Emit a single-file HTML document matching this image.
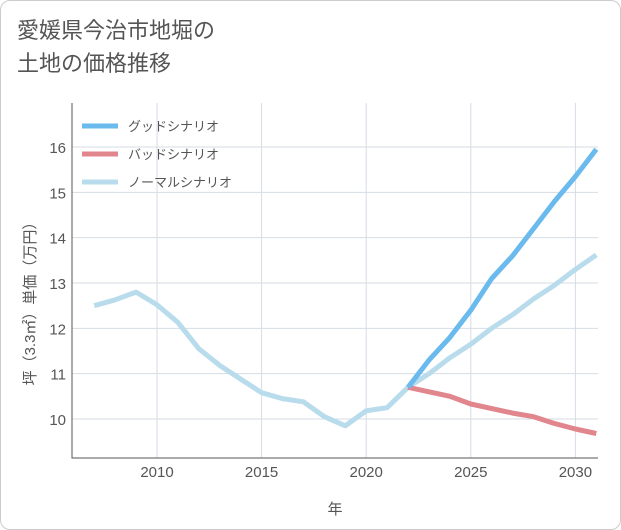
<!DOCTYPE html>
<html><head><meta charset="utf-8"><style>
body{margin:0;background:#fff;}
#wrap{width:621px;height:530px;position:relative;font-family:"Liberation Sans","Noto Sans CJK JP",sans-serif;}
#card{position:absolute;left:0;top:0;width:619px;height:528px;border:1px solid #ccc;border-radius:10px;background:#fff;}
#title{position:absolute;left:17px;top:14px;font-size:22px;line-height:33px;color:#555;}
</style></head><body>
<div id="wrap">
<div id="card"></div>
<div id="title">愛媛県今治市地堀の<br>土地の価格推移</div>
<svg id="chart" width="621" height="530" style="position:absolute;left:0;top:0"></svg>
</div>
<script>
const years=[2007,2008,2009,2010,2011,2012,2013,2014,2015,2016,2017,2018,2019,2020,2021,2022,2023,2024,2025,2026,2027,2028,2029,2030,2031];
const normalVals=[12.5,12.63,12.8,12.52,12.13,11.55,11.18,10.88,10.58,10.45,10.38,10.05,9.85,10.18,10.25,10.7,11.0,11.35,11.65,12.0,12.3,12.65,12.95,13.3,13.62];
const futureYears=[2022,2023,2024,2025,2026,2027,2028,2029,2030,2031];
const goodVals=[10.7,11.3,11.8,12.4,13.1,13.6,14.2,14.8,15.35,15.95];
const badVals=[10.7,10.6,10.5,10.33,10.23,10.13,10.05,9.9,9.78,9.68];
const xTicks=[2010,2015,2020,2025,2030];
const yTicks=[10,11,12,13,14,15,16];
const NS='http://www.w3.org/2000/svg';
const svg=document.getElementById('chart');
const L=72,R=598,T=103,B=458;
const xs=y=>157+(y-2010)*20.92;
const ys=v=>419-(v-10)*45.33;
function mk(tag,attrs,parent){const e=document.createElementNS(NS,tag);for(const k in attrs)e.setAttribute(k,attrs[k]);(parent||svg).appendChild(e);return e;}
const grid=mk('g',{});


xTicks.forEach(t=>{
 const l=mk('line',{x1:xs(t),x2:xs(t),y1:T,y2:B,stroke:'#d5dde5','stroke-width':1},grid);
 
 
 const tx=mk('text',{x:xs(t),y:477,'text-anchor':'middle','font-size':15,fill:'#555'});
 tx.textContent=t;
 
 
});
yTicks.forEach(t=>{
 const l=mk('line',{x1:L,x2:R,y1:ys(t),y2:ys(t),stroke:'#d5dde5','stroke-width':1},grid);
 
 
 const tx=mk('text',{x:66,y:ys(t)+6,'text-anchor':'end','font-size':15,fill:'#555'});
 tx.textContent=t;
 
 
});
const ax=mk('path',{d:`M${L} ${T} V${B} H${R}`,fill:'none',stroke:'#555','stroke-width':1});


function line(xv,yv,color,name){
 const d=xv.map((x,i)=>(i?'L':'M')+xs(x).toFixed(1)+' '+ys(yv[i]).toFixed(1)).join(' ');
 const p=mk('path',{d,fill:'none',stroke:color,'stroke-width':5,'stroke-linejoin':'round'});
 
 
}
line(years,normalVals,'#b9dcec','normal-scenario-line');
line(futureYears,badVals,'#e0868c','bad-scenario-line');
line(futureYears,goodVals,'#6bbaee','good-scenario-line');
const leg=[['グッドシナリオ','#6bbaee'],['バッドシナリオ','#e0868c'],['ノーマルシナリオ','#b9dcec']];
leg.forEach((e,i)=>{
 const y=126+i*28;
 const g=mk('g',{});
 
 
 mk('line',{x1:82,x2:118,y1:y,y2:y,stroke:e[1],'stroke-width':5},g);
 const t=mk('text',{x:128,y:y+5,'font-size':13,fill:'#555'},g);
 t.textContent=e[0];
});
const xt=mk('text',{x:335,y:514,'text-anchor':'middle','font-size':15,fill:'#555'});
xt.textContent='年';


const yt=mk('text',{x:0,y:0,'text-anchor':'middle','font-size':15,fill:'#555',transform:'translate(35,300) rotate(-90)'});
yt.textContent='坪（3.3㎡）単価（万円）';


</script>
</body></html>
